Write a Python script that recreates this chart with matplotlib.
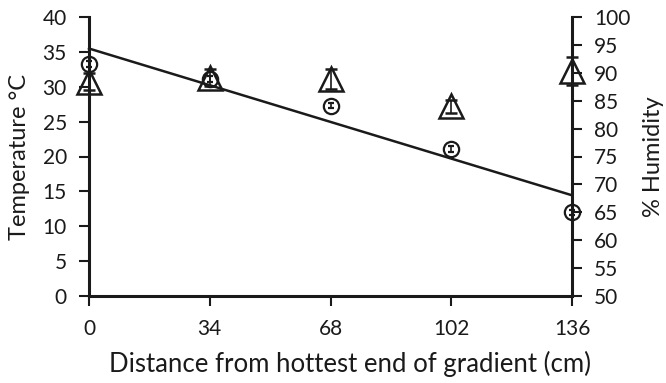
import numpy as np
import matplotlib
matplotlib.use("Agg")
import matplotlib.pyplot as plt

plt.rcParams['font.family'] = ['Lato', 'DejaVu Sans']

distance = [0, 34, 68, 102, 136]
temperature = [33.3, 31.1, 27.3, 21.1, 12.0]
temp_err = [0.4, 0.4, 0.4, 0.4, 0.4]
humidity = [88.4, 89.1, 88.9, 84.0, 90.3]
hum_err = [1.5, 1.5, 1.8, 1.2, 2.5]

fig = plt.figure(figsize=(6.66, 3.83), dpi=100)
L, R, T, B = 89, 572, 17, 296
ax = fig.add_axes([L/666, 1 - B/383, (R-L)/666, (B-T)/383])
ax2 = ax.twinx()

ink = '#1a1a1a'
ax.errorbar(distance, temperature, yerr=temp_err, fmt='o', ms=11, mfc='none', mec=ink,
            ecolor=ink, elinewidth=1.2, capsize=2.5, capthick=1.2, mew=1.6, clip_on=False, zorder=4)
coef = np.polyfit(distance, temperature, 1)
xs = np.array([distance[0], distance[-1]])
ax.plot(xs, np.polyval(coef, xs), color=ink, lw=1.8, clip_on=False, zorder=2)

ax2.errorbar(distance, humidity, yerr=hum_err, fmt='^', ms=17, mfc='none', mec=ink,
             ecolor=ink, elinewidth=1.2, capsize=4, capthick=1.2, mew=1.8, clip_on=False, zorder=3)

ax.set_xlim(0, 136)
ax.set_ylim(0, 40)
ax2.set_ylim(50, 100)
ax.set_xticks(distance)
ax.set_yticks(range(0, 41, 5))
ax2.set_yticks(range(50, 101, 5))

for a in (ax, ax2):
    a.spines['top'].set_visible(False)
    for s in a.spines.values():
        s.set_linewidth(2.2)
        s.set_color(ink)
    a.tick_params(direction='out', length=7, width=1.5, labelsize=15, colors=ink, pad=9)
ax.spines['right'].set_visible(False)
ax2.spines['left'].set_visible(False)
ax2.spines['bottom'].set_visible(False)
ax.tick_params(axis='x', pad=9.5)

ax.set_ylabel('Temperature °C', fontsize=17, color=ink, labelpad=9)
ax2.set_ylabel('% Humidity', fontsize=17, color=ink, labelpad=9)
ax.set_xlabel('Distance from hottest end of gradient (cm)', fontsize=18.5, color=ink, labelpad=11)
ax.xaxis.set_label_coords(0.54, -0.195)

fig.savefig('out.png', dpi=100)
